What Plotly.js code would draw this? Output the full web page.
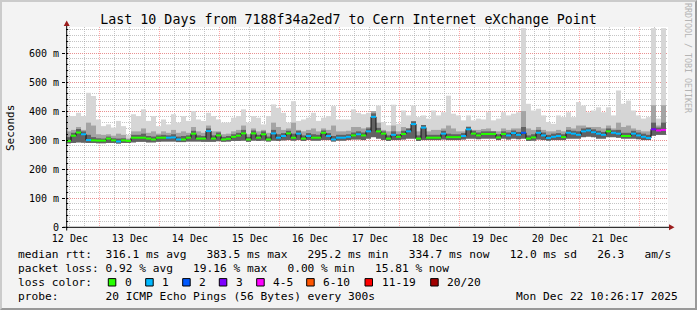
<!DOCTYPE html>
<html><head><meta charset="utf-8">
<script src="https://cdn.plot.ly/plotly-3.0.1.min.js"></script>
<style>
html,body{margin:0;padding:0;background:#f3f3f3;overflow:hidden;}
#wrap{position:relative;width:697px;height:310px;}
#chart{width:697px;height:310px;}
#frame{position:absolute;left:0;top:0;width:697px;height:310px;box-sizing:border-box;border-top:2px solid #cbcbcb;border-left:2px solid #cbcbcb;border-right:2px solid #999;border-bottom:2px solid #999;pointer-events:none;}
</style></head><body>
<div id="wrap"><div id="chart"></div><div id="frame"></div></div>
<script>
// ---------------- data ----------------
const startTime = '2025-12-12 10:26:17';
const binHours = 2;
const medianRtt = [
 297,315,326,320,300,299,298,298,305,299,295,299,297,308,308,308,305,302,308,308,308,309,302,302,308,322,305,305,331,305,
 316,302,304,311,315,323,302,323,308,320,302,323,308,314,323,308,322,305,314,308,308,325,314,302,308,308,311,316,320,316,
 330,380,330,322,305,318,311,321,330,355,305,343,308,308,308,322,310,310,310,314,337,322,316,321,321,321,309,321,316,324,
 318,325,305,309,325,316,307,311,314,310,325,322,318,330,333,327,322,318,330,325,322,314,314,322,316,311,307,337,333,335];
const lossCode = [
 0,0,0,1,1,0,0,0,0,0,1,0,0,0,0,0,0,0,0,0,1,1,1,0,0,0,0,0,1,0,
 0,0,0,0,0,0,0,0,0,0,0,1,1,1,0,0,1,0,1,0,0,0,1,1,1,1,1,0,1,0,
 1,1,0,0,0,1,0,0,1,1,0,1,0,0,0,1,0,0,0,1,1,0,0,0,0,0,0,0,1,1,
 1,2,0,0,1,1,1,1,1,0,1,1,1,1,1,1,1,1,0,1,1,0,0,1,1,1,1,3,4,4];
const minRtt = [
 289,290,292,291,290,290,289,289,290,290,288,290,290,292,294,294,292,292,294,295,295,295,293,293,295,295,295,294,294,294,
 296,294,295,297,297,298,294,298,297,298,295,298,297,299,300,298,300,297,300,298,298,300,300,295,298,298,300,302,302,300,
 305,310,305,300,297,300,300,302,305,305,297,300,300,300,300,302,300,300,300,302,305,305,303,305,305,305,300,305,302,305,
 303,305,297,298,302,300,298,300,300,300,305,305,305,310,312,310,305,305,310,310,308,305,305,305,303,300,300,315,318,318];
const coreRtt = [
 310,325,338,330,318,310,306,305,312,306,305,306,301,318,318,322,314,312,316,318,316,320,312,314,316,332,316,314,340,316,
 326,311,314,320,325,335,311,333,318,330,312,335,320,324,332,322,332,316,324,320,318,333,324,314,318,318,320,326,330,326,
 340,392,342,330,316,330,320,332,340,365,316,352,318,318,318,332,322,320,320,324,346,332,326,330,330,330,320,330,326,333,
 328,345,316,320,335,326,318,322,324,320,335,332,330,340,342,337,332,328,340,334,335,325,325,332,326,322,318,360,343,360];
const upperRtt = [
 330,335,345,335,360,350,320,318,320,315,322,318,305,330,330,340,325,330,322,330,325,335,325,330,325,345,330,325,350,330,
 330,320,322,330,335,350,320,340,330,335,325,360,345,335,340,360,335,330,335,340,330,340,335,350,330,330,332,345,345,340,
 345,400,360,335,330,350,330,345,340,360,330,350,330,335,335,340,350,340,330,330,345,335,335,338,340,330,330,340,335,340,
 340,400,340,335,345,335,330,330,335,330,345,340,350,350,345,345,345,340,350,340,360,345,350,340,335,330,330,420,350,420];
const maxRtt = [
 383,383,394,383,463,452,371,348,354,343,366,348,318,389,383,406,366,383,348,371,354,389,360,383,366,400,371,366,394,383,
 371,360,360,377,383,406,360,383,377,354,383,423,411,394,360,434,366,371,377,394,366,377,383,417,371,371,371,406,394,389,
 394,399,419,362,351,422,356,402,385,419,379,385,374,402,385,396,453,391,385,368,385,368,374,371,396,368,374,396,385,391,
 396,686,425,402,408,385,362,356,385,379,396,379,431,419,396,402,413,396,413,385,471,425,436,402,385,374,379,686,374,686];
const dayLabels = ['12 Dec','13 Dec','14 Dec','15 Dec','16 Dec','17 Dec','18 Dec','19 Dec','20 Dec','21 Dec'];
const yTickValues = [0,100,200,300,400,500,600];
const yTickLabels = ['0','100 m','200 m','300 m','400 m','500 m','600 m'];
const lossLabels = ['0','1','2','3','4-5','6-10','11-19','20/20'];
const lossColors = ['#26ff00','#00b8ff','#0059ff','#7e00ff','#ff00ff','#ff5500','#ff0000','#a10000'];
const titleText = 'Last 10 Days from 7188f34a2ed7 to Cern Internet eXchange Point';
const rttStats = ['316.1 ms avg','383.5 ms max','295.2 ms min','334.7 ms now','12.0 ms sd','26.3','am/s'];
const lossStats = ['0.92 % avg','19.16 % max','0.00 % min','15.81 % now'];
const probeText = '20 ICMP Echo Pings (56 Bytes) every 300s';
const stampText = 'Mon Dec 22 10:26:17 2025';

// ---------------- helpers ----------------
const MONO = 'DejaVu Sans Mono';
const H = 3600e3, DAY = 86400e3;
const t0 = new Date(startTime.replace(' ', 'T') + 'Z').getTime();
const binMs = binHours * H;
function fmt(ms){const d=new Date(ms);const p=n=>String(n).padStart(2,'0');
 return d.getUTCFullYear()+'-'+p(d.getUTCMonth()+1)+'-'+p(d.getUTCDate())+' '+p(d.getUTCHours())+':'+p(d.getUTCMinutes())+':'+p(d.getUTCSeconds());}
const L = 66, R = 29, T = 27, B = 83, W = 697, HT = 310;
const PW = W - L - R, PH = HT - T - B;
const px = v => (v - L) / PW;           // pixel -> paper x
const py = v => (T + PH - v) / PH;      // pixel -> paper y
const spanMs = 10 * DAY + 2 * 1440e3;
const xRange = [fmt(t0), fmt(t0 + spanMs)];
const firstMidnight = Date.UTC(2025, 11, 13);
const NB = '\u00a0';
const sp = n => NB.repeat(n);

const centers = medianRtt.map((_, i) => fmt(t0 + (i + 0.5) * binMs));
function smoke(top, color){
 return {type:'bar', x:centers, base:minRtt, y:top.map((v,i)=>v-minRtt[i]), width:binMs,
   marker:{color:color, line:{width:0}}, hoverinfo:'skip', showlegend:false};
}
const traces = [smoke(maxRtt,'#d6d6d6'), smoke(upperRtt,'#a4a4a4'), smoke(coreRtt,'#626262')];
traces.push({type:'scatter', mode:'lines', x:centers, y:medianRtt, xaxis:'x2', line:{shape:'hvh', color:'#101010', width:1}, hoverinfo:'skip', showlegend:false});
lossColors.forEach((c, code) => {
 const xs = [], ys = [];
 medianRtt.forEach((m, i) => { if (lossCode[i] === code) { xs.push(fmt(t0 + i*binMs), fmt(t0 + (i+1)*binMs), null); ys.push(m, m, null); } });
 if (xs.length) traces.push({type:'scatter', mode:'lines', x:xs, y:ys, xaxis:'x2', connectgaps:false, line:{color:c, width:2}, hoverinfo:'skip', showlegend:false});
});

const noonTicks = dayLabels.map((_, i) => fmt(Date.UTC(2025, 11, 12 + i, 12)));
const minorTicks = [];
for (let d = 0; d < 12; d++) [6, 18].forEach(h => minorTicks.push(fmt(Date.UTC(2025, 11, 11 + d, h))));

const GRAY = 'rgba(150,150,150,0.55)', RED = 'rgba(255,110,110,0.6)', DASH = '1px,1px';
const annotations = [], shapes = [];
const LF = 11.2;
function txt(t, x, y, opts){ annotations.push(Object.assign({text:t, xref:'paper', yref:'paper', x:px(x), y:py(y), xanchor:'left', yanchor:'middle', showarrow:false, font:{family:MONO, size:LF, color:'#000'}}, opts||{})); }
const rows = [254.3, 268.3, 282.3, 296];
txt('median' + sp(1) + 'rtt:' + sp(2) + rttStats.map(s => s.replace(/ /g, NB)).join(sp(3)), 16, rows[0]);
txt('packet' + sp(1) + 'loss:' + sp(1) + lossStats.map(s => s.replace(/ /g, NB)).join(sp(3)), 16, rows[1]);
txt('loss' + sp(1) + 'color:', 16, rows[2]);
[108.3, 145.7, 182.7, 219.3, 256.7, 306.7, 365, 430.7].forEach((x, i) => {
 shapes.push({type:'rect', xref:'paper', yref:'paper', x0:px(x), x1:px(x+7.5), y0:py(rows[2]+3.7), y1:py(rows[2]-3.7), fillcolor:lossColors[i], line:{color:'#000', width:1}, layer:'above'});
 txt(lossLabels[i], x + 14.5, rows[2]);
});
txt('probe:' + sp(7) + probeText.replace(/ /g, NB), 16, rows[3]);
txt(stampText.replace(/ /g, NB), 680, rows[3], {xanchor:'right'});
txt('Seconds', 10, 128, {xanchor:'center', textangle:-90, font:{family:MONO, size:11, color:'#000'}});
txt('RRDTOOL' + sp(1) + '/' + sp(1) + 'TOBI' + sp(1) + 'OETIKER', 688, 58, {xanchor:'center', textangle:90, font:{family:MONO, size:8.3, color:'#b4b4b4'}});

// axis lines and arrows
shapes.push({type:'line', xref:'paper', yref:'paper', x0:px(66.7), x1:px(66.7), y0:py(230.5), y1:py(24), line:{color:'#000', width:1}, layer:'above'});
shapes.push({type:'line', xref:'paper', yref:'paper', x0:px(63), x1:px(670), y0:py(227.3), y1:py(227.3), line:{color:'#000', width:1}, layer:'above'});
shapes.push({type:'path', xref:'paper', yref:'paper', path:`M ${px(66.7)} ${py(20.5)} L ${px(63.7)} ${py(26)} L ${px(69.7)} ${py(26)} Z`, fillcolor:'#9b1c1c', line:{width:0}, layer:'above'});
shapes.push({type:'path', xref:'paper', yref:'paper', path:`M ${px(674.5)} ${py(227.3)} L ${px(669)} ${py(224.3)} L ${px(669)} ${py(230.3)} Z`, fillcolor:'#9b1c1c', line:{width:0}, layer:'above'});

const layout = {
 width:W, height:HT, margin:{l:L, r:R, t:T, b:B, pad:0},
 paper_bgcolor:'#f3f3f3', plot_bgcolor:'#ffffff', barmode:'overlay', showlegend:false,
 title:{text:titleText, font:{family:MONO, size:13.3, color:'#000'}, xref:'container', x:0.5, xanchor:'center', yref:'container', y:1-19/HT, yanchor:'middle'},
 xaxis:{type:'date', range:xRange, tickmode:'array', tickvals:noonTicks, ticktext:dayLabels, ticks:'', showline:false, zeroline:false,
   showgrid:true, gridcolor:GRAY, griddash:DASH, gridwidth:1,
   minor:{tickmode:'array', tickvals:minorTicks, showgrid:true, gridcolor:GRAY, griddash:DASH, gridwidth:1, ticks:''},
   tickfont:{family:MONO, size:10, color:'#000'}, ticklabelstandoff:4, fixedrange:true},
 xaxis2:{type:'date', overlaying:'x', anchor:'y', side:'bottom', range:xRange, tickmode:'linear', tick0:fmt(firstMidnight), dtick:DAY,
   showticklabels:false, ticks:'', showline:false, zeroline:false, showgrid:true, gridcolor:RED, griddash:DASH, gridwidth:1, fixedrange:true},
 yaxis:{range:[0, 690], tickmode:'array', tickvals:yTickValues, ticktext:yTickLabels, ticks:'outside', ticklen:3, tickcolor:'#000',
   showline:false, zeroline:false, showgrid:true, gridcolor:RED, griddash:DASH, gridwidth:1,
   minor:{tickmode:'linear', tick0:0, dtick:20, showgrid:true, gridcolor:GRAY, griddash:DASH, gridwidth:1, ticks:'inside', ticklen:2, tickcolor:'#000'},
   tickfont:{family:MONO, size:10, color:'#000'}, ticklabelstandoff:1, fixedrange:true},
 annotations:annotations, shapes:shapes
};
Plotly.newPlot('chart', traces, layout, {staticPlot:true, displayModeBar:false});
</script>
</body></html>
